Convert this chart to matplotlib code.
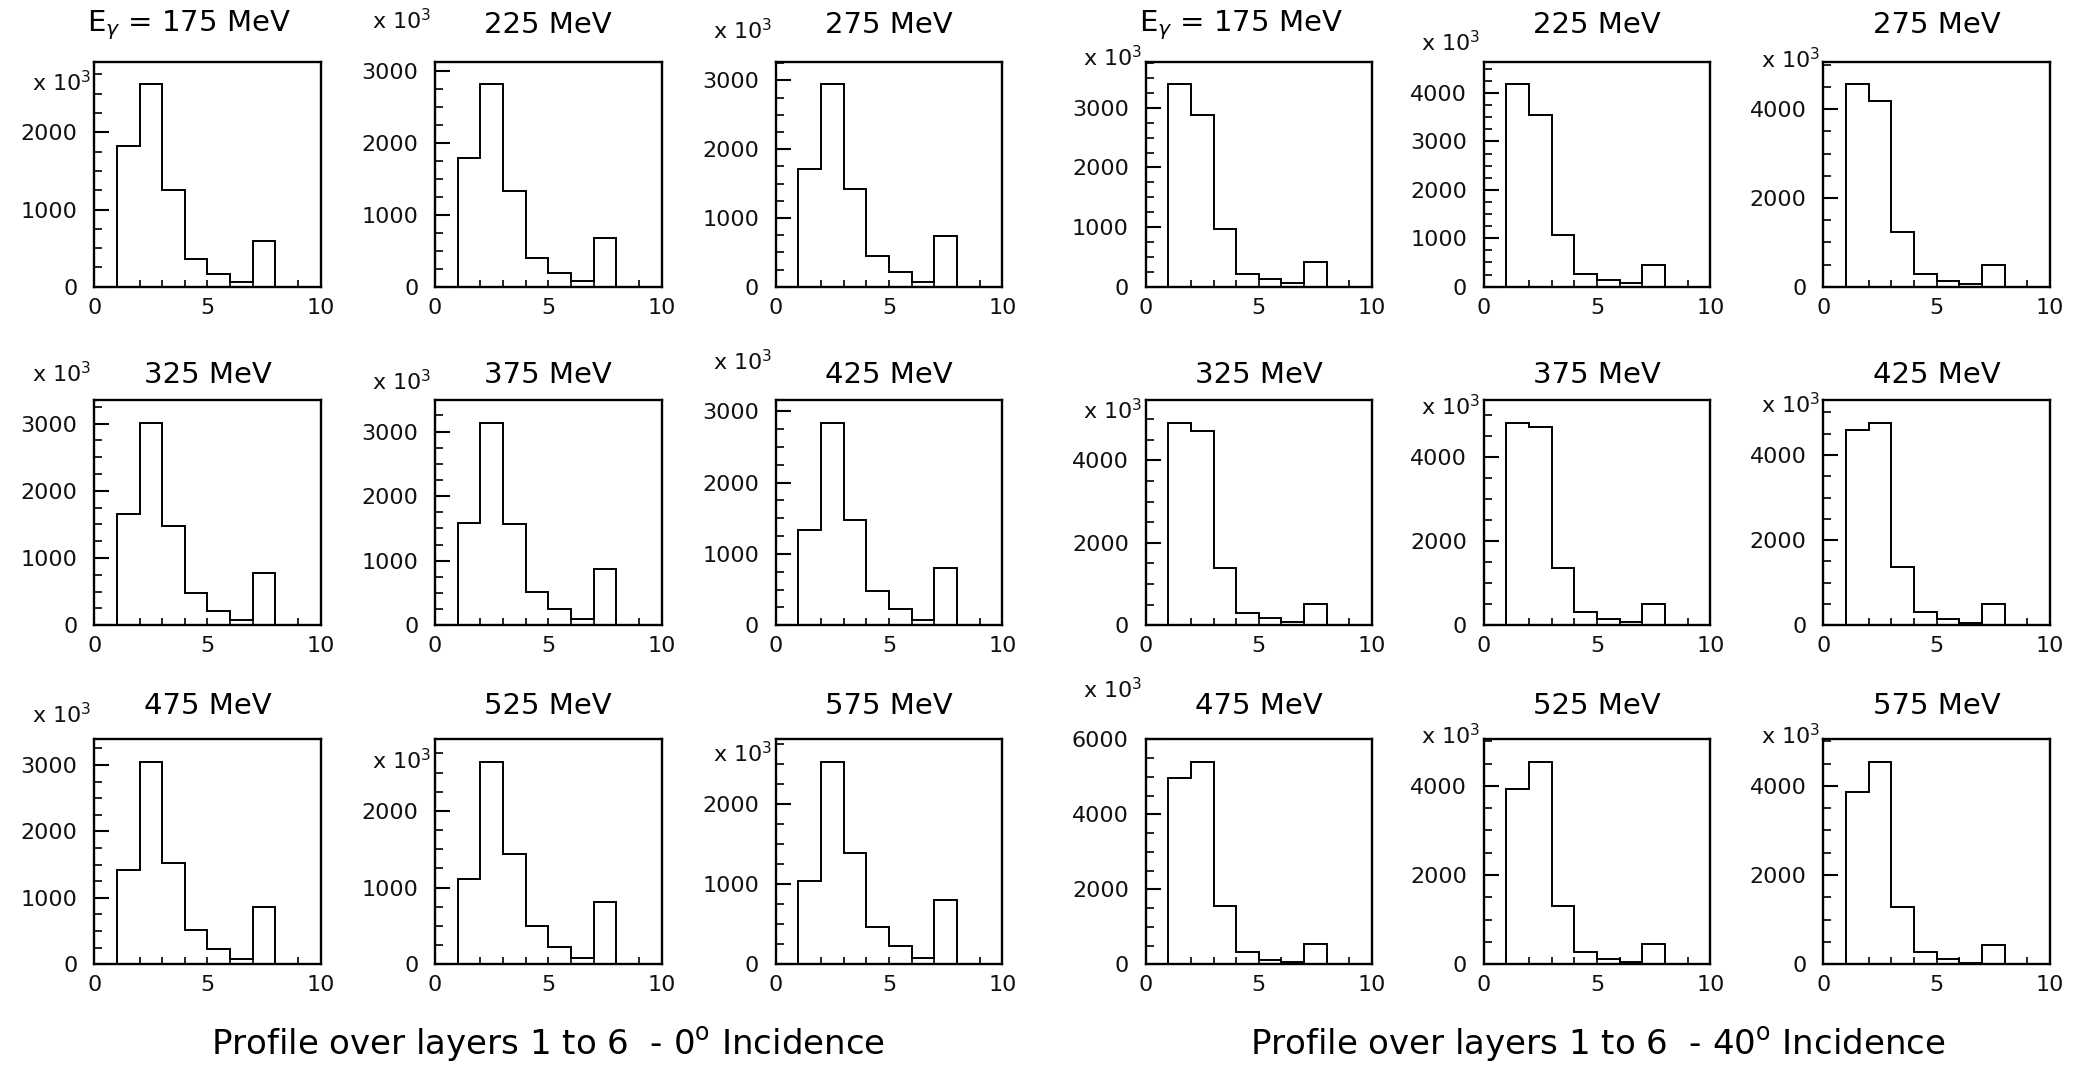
import numpy as np
import matplotlib
matplotlib.use("Agg")
import matplotlib.pyplot as plt
from matplotlib.ticker import MultipleLocator, FixedLocator

# === Date (afisate in unitati de 10^3) ===
energies = [175, 225, 275, 325, 375, 425, 475, 525, 575]
bin_edges = np.arange(0, 11)

# continut pe bin-urile 1..7 (restul sunt zero)
counts_0deg = [
    [1823, 2621, 1254, 353, 168, 60, 595],
    [1792, 2815, 1329, 403, 185, 74, 671],
    [1717, 2941, 1427, 440, 208, 73, 740],
    [1658, 3010, 1475, 483, 217, 84, 775],
    [1582, 3133, 1572, 514, 257, 103, 868],
    [1337, 2837, 1477, 475, 233, 75, 801],
    [1425, 3046, 1530, 512, 236, 85, 858],
    [1113, 2639, 1435, 496, 230, 87, 817],
    [1033, 2523, 1386, 469, 228, 83, 797],
]
counts_40deg = [
    [3394, 2878, 967, 217, 122, 67, 411],
    [4178, 3555, 1075, 253, 130, 75, 445],
    [4560, 4194, 1239, 284, 127, 67, 485],
    [4904, 4704, 1378, 305, 168, 80, 521],
    [4808, 4706, 1367, 314, 149, 79, 511],
    [4589, 4752, 1367, 311, 148, 62, 489],
    [4973, 5398, 1549, 336, 124, 71, 540],
    [3933, 4535, 1316, 275, 112, 52, 446],
    [3851, 4535, 1286, 275, 112, 37, 431],
]
captions = [r"Profile over layers 1 to 6  - 0$^\mathrm{o}$ Incidence",
            r"Profile over layers 1 to 6  - 40$^\mathrm{o}$ Incidence"]

# === Layout ===
W, H = 2079, 1067
fig = plt.figure(figsize=(W / 100, H / 100), dpi=100)

col_left = [[0.0453, 0.2092, 0.3731], [0.551, 0.7137, 0.877]]
ax_w = 0.109
row_top_px = [61.7, 400.3, 739.3]
ax_h_px = 225
title_y_px = [25, 375, 706]

tick_size = 16


def hist_panel(ax, vals):
    full = np.zeros(10)
    full[1:8] = vals
    ymax = 1.112 * max(vals)
    ax.stairs(full, bin_edges, color="black", linewidth=1.4, baseline=0)
    ax.set_xlim(0, 10)
    ax.set_ylim(0, ymax)

    step = 1000 if ymax < 4800 else 2000
    ax.yaxis.set_major_locator(MultipleLocator(step))
    ax.yaxis.set_minor_locator(MultipleLocator(step / 4))
    ax.xaxis.set_major_locator(FixedLocator([0, 5, 10]))
    ax.xaxis.set_minor_locator(MultipleLocator(1))

    ax.tick_params(axis="y", which="major", direction="in", length=11, width=1.5, pad=12)
    ax.tick_params(axis="y", which="minor", direction="in", length=6, width=1.2)
    ax.tick_params(axis="x", which="both", direction="in", length=5, width=1.2, pad=8)
    for t in ax.get_xticklabels() + ax.get_yticklabels():
        t.set_fontfamily("DejaVu Sans")
        t.set_fontsize(tick_size)
        t.set_color("#111111")
    for sp in ax.spines.values():
        sp.set_linewidth(1.7)

    # eticheta "x 10^3" deasupra celui mai mare tick major
    top_major = np.floor(ymax / step) * step
    ax.annotate(r"x 10$^{3}$", xy=(-0.015, top_major), xycoords=("axes fraction", "data"),
                xytext=(0, 50), textcoords="offset pixels", ha="right", va="center",
                fontsize=16, fontfamily="DejaVu Sans", color="#111111")


for g, counts in enumerate([counts_0deg, counts_40deg]):
    for i, e in enumerate(energies):
        r, c = divmod(i, 3)
        left = col_left[g][c]
        bottom = 1 - (row_top_px[r] + ax_h_px) / H
        ax = fig.add_axes([left, bottom, ax_w, ax_h_px / H])
        hist_panel(ax, counts[i])

        if i == 0:
            txt = r"E$_\gamma$ = %d MeV" % e
            xc = left + 0.42 * ax_w
        else:
            txt = "%d MeV" % e
            xc = left + 0.5 * ax_w
        fig.text(xc, 1 - title_y_px[r] / H, txt, ha="center", va="center",
                 fontsize=21, fontfamily="DejaVu Sans", fontweight="medium")

    xc = (col_left[g][0] + col_left[g][2] + ax_w) / 2
    fig.text(xc, 1 - 1045 / H, captions[g], ha="center", va="center",
             fontsize=24.5, fontfamily="DejaVu Sans")

fig.savefig("out.png", dpi=100)
plt.close(fig)
